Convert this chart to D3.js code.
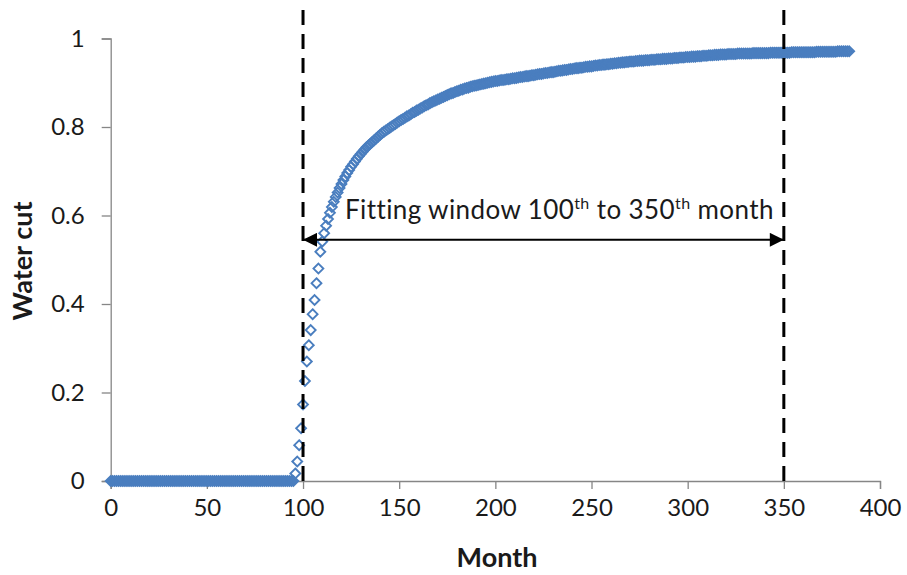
<!DOCTYPE html>
<html>
<head>
<meta charset="utf-8">
<script src="https://cdn.jsdelivr.net/npm/d3@7/dist/d3.min.js"></script>
<style>
  html, body { margin: 0; padding: 0; background: #ffffff; }
  svg { display: block; font-family: Lato, "Open Sans", sans-serif; }
</style>
</head>
<body>
<svg id="chart" width="907" height="575"></svg>
<script>
// Monthly water cut of the producing well, split into segments by first month.
const zeroStartMonth = 0;
const zeroCut = [
  0,0,0,0,0,0,0,0,0,0, 0,0,0,0,0,0,0,0,0,0, 0,0,0,0,0,0,0,0,0,0,
  0,0,0,0,0,0,0,0,0,0, 0,0,0,0,0,0,0,0,0,0, 0,0,0,0,0,0,0,0,0,0,
  0,0,0,0,0,0,0,0,0,0, 0,0,0,0,0,0,0,0,0,0, 0,0,0,0,0,0,0,0,0,0,
  0,0,0,0,0,0
]; // months 0-95

const riseStartMonth = 96;
const riseCut = [
  0.017, 0.044, 0.081, 0.119, 0.173, 0.226, 0.270, 0.307, 0.341, 0.377,
  0.409, 0.447, 0.480, 0.518, 0.541, 0.560, 0.577, 0.592, 0.606, 0.619,
  0.631, 0.642, 0.652, 0.662, 0.671, 0.680, 0.688, 0.696, 0.703, 0.710,
  0.716, 0.722, 0.728, 0.734, 0.739
]; // months 96-130

const midStartMonth = 131;
const midCut = [
  0.744, 0.749, 0.754, 0.758, 0.762, 0.766, 0.770, 0.774, 0.778, 0.782,
  0.786, 0.789, 0.792, 0.795, 0.798, 0.801, 0.804, 0.807, 0.810, 0.813,
  0.816, 0.818, 0.821, 0.824, 0.826, 0.829, 0.832, 0.834, 0.837, 0.839,
  0.842, 0.844, 0.847, 0.849, 0.851, 0.854, 0.856, 0.858, 0.860, 0.862,
  0.864, 0.866, 0.868, 0.870, 0.872, 0.874, 0.876, 0.877, 0.879, 0.881,
  0.882, 0.884, 0.885, 0.887, 0.888, 0.889, 0.891, 0.892, 0.893, 0.894,
  0.895, 0.896, 0.897, 0.898, 0.899, 0.900, 0.901, 0.902, 0.903, 0.904,
  0.904, 0.905, 0.906, 0.906, 0.907, 0.908, 0.908, 0.909, 0.910, 0.910,
  0.911, 0.912, 0.913, 0.913, 0.914, 0.915, 0.915, 0.916, 0.917, 0.917,
  0.918, 0.919, 0.920, 0.920, 0.921, 0.922, 0.922, 0.923, 0.924, 0.924,
  0.925, 0.926, 0.927, 0.927, 0.928, 0.929, 0.929, 0.930, 0.931, 0.931,
  0.932, 0.933, 0.933, 0.934, 0.934, 0.935, 0.936, 0.936, 0.937, 0.937
]; // months 131-250

const lateStartMonth = 251;
const lateCut = [
  0.938, 0.939, 0.939, 0.940, 0.940, 0.941, 0.941, 0.942, 0.942, 0.943,
  0.943, 0.944, 0.944, 0.945, 0.945, 0.946, 0.946, 0.947, 0.947, 0.948,
  0.948, 0.948, 0.949, 0.949, 0.950, 0.950, 0.950, 0.951, 0.951, 0.951,
  0.952, 0.952, 0.952, 0.953, 0.953, 0.953, 0.954, 0.954, 0.954, 0.955,
  0.955, 0.955, 0.956, 0.956, 0.956, 0.957, 0.957, 0.957, 0.958, 0.958,
  0.958, 0.959, 0.959, 0.959, 0.960, 0.960, 0.960, 0.961, 0.961, 0.961,
  0.962, 0.962, 0.962, 0.963, 0.963, 0.963, 0.964, 0.964, 0.964, 0.964,
  0.965, 0.965, 0.965, 0.965, 0.965, 0.966, 0.966, 0.966, 0.966, 0.966,
  0.966, 0.966, 0.966, 0.967, 0.967, 0.967, 0.967, 0.967, 0.967, 0.967,
  0.967, 0.967, 0.968, 0.968, 0.968, 0.968, 0.968, 0.968, 0.968, 0.968,
  0.968, 0.968, 0.968, 0.969, 0.969, 0.969, 0.969, 0.969, 0.969, 0.969,
  0.969, 0.969, 0.969, 0.969, 0.969, 0.969, 0.970, 0.970, 0.970, 0.970,
  0.970, 0.970, 0.970, 0.970, 0.970, 0.970, 0.970, 0.971, 0.971, 0.971,
  0.971, 0.971, 0.971, 0.971
]; // months 251-384

// Axis ticks
const xTicks = [0, 50, 100, 150, 200, 250, 300, 350, 400];
const yTicks = [0, 0.2, 0.4, 0.6, 0.8, 1];

// Fitting window bounds (months)
const windowStart = 100;
const windowEnd = 350;

const segments = [
  [zeroStartMonth, zeroCut],
  [riseStartMonth, riseCut],
  [midStartMonth, midCut],
  [lateStartMonth, lateCut]
];
const points = [];
segments.forEach(([start, vals]) => vals.forEach((v, i) => points.push({ month: start + i, cut: v })));

const svg = d3.select("#chart");
const blue = "#4a7ebf";
const axisGray = "#868686";
const textColor = "#1a1a1a";

const x = d3.scaleLinear().domain([0, 400]).range([110.7, 880]);
const y = d3.scaleLinear().domain([0, 1]).range([481, 38.5]);

// Axes
const xAxis = d3.axisBottom(x).tickValues(xTicks).tickSize(8).tickPadding(10).tickFormat(d3.format("d"));
const yAxis = d3.axisLeft(y).tickValues(yTicks).tickSize(9).tickPadding(17).tickFormat(d => d === 0 || d === 1 ? String(d) : d.toFixed(1));

const gx = svg.append("g").attr("transform", `translate(0,${y(0)})`).call(xAxis);
const gy = svg.append("g").attr("transform", `translate(${x(0)},0)`).call(yAxis);
[gx, gy].forEach(g => {
  g.select(".domain").attr("stroke", axisGray).attr("stroke-width", 1.3);
  g.selectAll(".tick line").attr("stroke", axisGray).attr("stroke-width", 1.3);
  g.selectAll(".tick text").attr("fill", textColor).style("font-size", "24px").style("font-family", "Lato, sans-serif");
});

// Markers: hollow diamonds
const diamond = d3.symbol().type(d3.symbolDiamond2).size(62);
svg.append("g")
  .selectAll("path")
  .data(points)
  .join("path")
  .attr("d", diamond)
  .attr("transform", d => `translate(${x(d.month)},${y(d.cut)})`)
  .attr("fill", "none")
  .attr("stroke", blue)
  .attr("stroke-width", 1.9);

// Fitting window boundaries
[windowStart, windowEnd].forEach(m => {
  svg.append("line")
    .attr("x1", x(m)).attr("x2", x(m))
    .attr("y1", 10).attr("y2", y(0))
    .attr("stroke", "#000")
    .attr("stroke-width", 3)
    .attr("stroke-dasharray", "15,9");
});

// Double-headed arrow across the window
const arrowY = y(0.545);
const defs = svg.append("defs");
defs.append("marker")
  .attr("id", "arrowHead")
  .attr("viewBox", "0 0 10 10")
  .attr("refX", 10).attr("refY", 5)
  .attr("markerWidth", 17).attr("markerHeight", 14)
  .attr("markerUnits", "userSpaceOnUse")
  .attr("orient", "auto-start-reverse")
  .append("path")
  .attr("d", "M0,0 L10,5 L0,10 Z")
  .attr("fill", "#000");

svg.append("line")
  .attr("x1", x(windowStart)).attr("x2", x(windowEnd))
  .attr("y1", arrowY).attr("y2", arrowY)
  .attr("stroke", "#000")
  .attr("stroke-width", 2)
  .attr("marker-start", "url(#arrowHead)")
  .attr("marker-end", "url(#arrowHead)");

// Annotation text with superscripts
const label = svg.append("text")
  .attr("x", 345)
  .attr("y", 219)
  .attr("fill", textColor)
  .style("font-size", "26px")
  .style("letter-spacing", "0.4px")
  .style("font-family", "Lato, sans-serif");
label.append("tspan").text("Fitting window 100");
label.append("tspan").attr("dy", -10).style("font-size", "16px").text("th");
label.append("tspan").attr("dy", 10).text(" to 350");
label.append("tspan").attr("dy", -10).style("font-size", "16px").text("th");
label.append("tspan").attr("dy", 10).text(" month");

// Axis titles
svg.append("text")
  .attr("x", 497).attr("y", 567)
  .attr("text-anchor", "middle")
  .attr("fill", textColor)
  .style("font-size", "27px").style("font-weight", "bold")
  .text("Month");

svg.append("text")
  .attr("transform", "translate(32,261) rotate(-90)")
  .attr("text-anchor", "middle")
  .attr("fill", textColor)
  .style("font-size", "27px").style("font-weight", "bold")
  .text("Water cut");
</script>
</body>
</html>
